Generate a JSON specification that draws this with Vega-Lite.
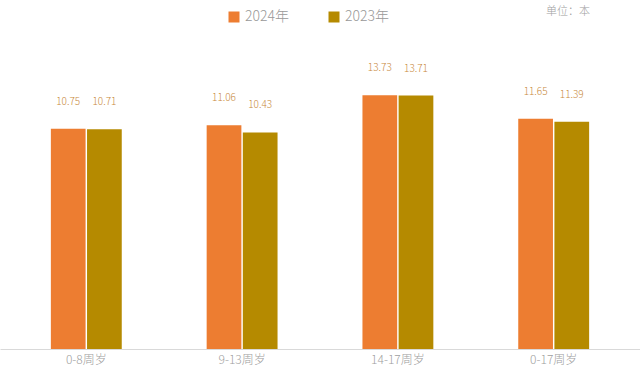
{
  "$schema": "https://vega.github.io/schema/vega-lite/v6.json",
  "autosize": "none",
  "width": 640,
  "height": 308,
  "padding": {"left": 0, "right": 0, "top": 41, "bottom": 26},
  "background": "white",
  "config": {"view": {"stroke": null}, "font": "Noto Sans CJK SC"},
  "title": {"text": "单位：本", "anchor": "end", "frame": "group", "dx": -50, "offset": -18, "baseline": "bottom", "fontSize": 11, "fontWeight": 300, "color": "#a0a0a0", "font": "Noto Sans CJK SC"},
  "data": {"values": [
    {"group": "0-8周岁", "year": "2024年", "value": 10.75},
    {"group": "0-8周岁", "year": "2023年", "value": 10.71},
    {"group": "9-13周岁", "year": "2024年", "value": 11.06},
    {"group": "9-13周岁", "year": "2023年", "value": 10.43},
    {"group": "14-17周岁", "year": "2024年", "value": 13.73},
    {"group": "14-17周岁", "year": "2023年", "value": 13.71},
    {"group": "0-17周岁", "year": "2024年", "value": 11.65},
    {"group": "0-17周岁", "year": "2023年", "value": 11.39}
  ]},
  "encoding": {
    "x": {"field": "group", "type": "nominal", "sort": null,
      "scale": {"paddingInner": 0.545, "paddingOuter": 0.3265},
      "axis": {"title": null, "ticks": false, "domainColor": "#d9d9d9", "domainWidth": 1, "labelFontSize": 12, "labelColor": "#a0a0a0", "labelPadding": 5, "labelAngle": 0, "labelFont": "Noto Sans CJK SC", "labelFontWeight": 300}},
    "xOffset": {"field": "year", "type": "nominal", "sort": ["2024年", "2023年"], "scale": {"paddingInner": 0.04}},
    "y": {"field": "value", "type": "quantitative", "scale": {"domain": [-8.8, 18.55], "zero": false}, "axis": null}
  },
  "layer": [
    {
      "mark": {"type": "bar"},
      "encoding": {
        "y2": {"datum": -8.8},
        "color": {"field": "year", "type": "nominal",
          "scale": {"domain": ["2024年", "2023年"], "range": ["#ED7D31", "#B58A00"]},
          "legend": {"title": null, "orient": "none", "legendX": 227, "legendY": -31, "direction": "horizontal", "symbolType": "square", "symbolSize": 121, "symbolStrokeWidth": 0, "labelFontSize": 14, "labelColor": "#999999", "labelFont": "Noto Sans CJK SC", "labelFontWeight": 300, "columnPadding": 38, "labelOffset": 4, "padding": 0}}
      }
    },
    {
      "mark": {"type": "text", "dy": -27, "baseline": "middle", "fontSize": 10, "color": "#C8893C", "font": "Noto Sans CJK SC", "fontWeight": 300},
      "encoding": {"text": {"field": "value", "type": "quantitative", "format": ".2f"}}
    }
  ]
}
